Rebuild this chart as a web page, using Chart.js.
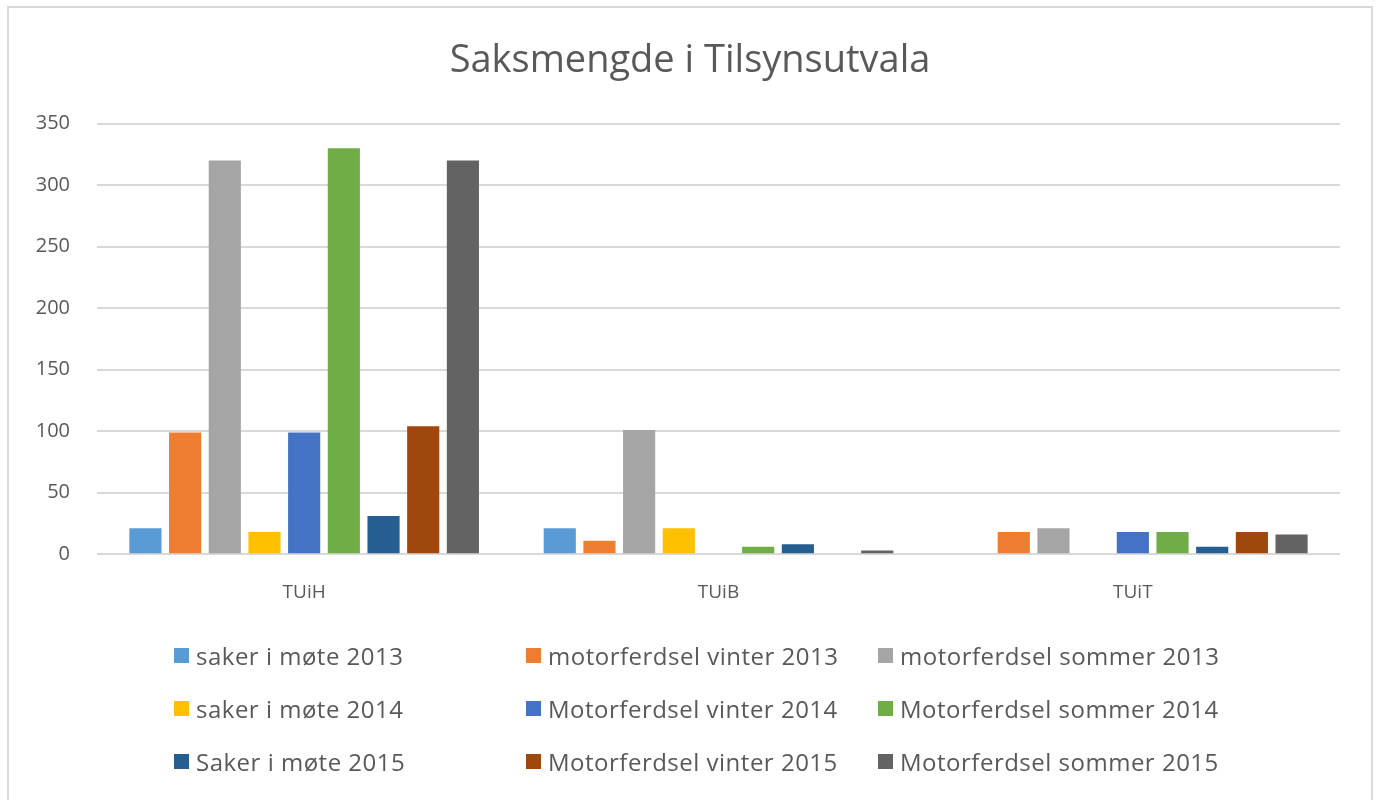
<!DOCTYPE html>
<html>
<head>
<meta charset="utf-8">
<script src="https://cdn.jsdelivr.net/npm/chart.js@4/dist/chart.umd.min.js"></script>
<style>
  html, body { margin: 0; padding: 0; background: #fff; }
  #wrap { position: relative; width: 1380px; height: 800px; overflow: hidden; }
  #frame { position: absolute; left: 7px; top: 6px; width: 1366px; height: 810px; border: 2px solid #d9d9d9; box-sizing: border-box; }
  #cv { position: absolute; left: 0; top: 0; }
  #legend { position: absolute; left: 174px; top: 629px; width: 1150px;
    display: grid; grid-template-columns: 352px 352px 420px; row-gap: 0; }
  .li { display: flex; align-items: center; height: 53px; font-family: 'Open Sans', sans-serif;
    font-size: 24px; letter-spacing: 0.5px; color: #595959; white-space: nowrap; }
  .sw { width: 15px; height: 15px; margin-right: 7px; flex: none; }
</style>
</head>
<body>
<div id="wrap">
  <div id="frame"></div>
  <canvas id="cv" width="1380" height="800"></canvas>
  <div id="legend"></div>
</div>
<script>
const categories = ['TUiH', 'TUiB', 'TUiT'];
const seriesNames = [
  'saker i møte 2013', 'motorferdsel vinter 2013', 'motorferdsel sommer 2013',
  'saker i møte 2014', 'Motorferdsel vinter 2014', 'Motorferdsel sommer 2014',
  'Saker i møte 2015', 'Motorferdsel vinter 2015', 'Motorferdsel sommer 2015'
];
const sakerMote2013 = [21, 21, 0];
const motorVinter2013 = [99, 11, 18];
const motorSommer2013 = [320, 101, 21];
const sakerMote2014 = [18, 21, 0];
const motorVinter2014 = [99, 0, 18];
const motorSommer2014 = [330, 6, 18];
const sakerMote2015 = [31, 8, 6];
const motorVinter2015 = [104, 0, 18];
const motorSommer2015 = [320, 3, 16];
const yTicks = [0, 50, 100, 150, 200, 250, 300, 350];

const seriesValues = [sakerMote2013, motorVinter2013, motorSommer2013, sakerMote2014,
  motorVinter2014, motorSommer2014, sakerMote2015, motorVinter2015, motorSommer2015];
const colors = ['#5B9BD5', '#ED7D31', '#A5A5A5', '#FFC000', '#4472C4', '#70AD47', '#255E91', '#9E480E', '#636363'];

const FONT = "'Open Sans', sans-serif";

const datasets = seriesNames.map((n, i) => ({
  label: n,
  data: seriesValues[i],
  backgroundColor: colors[i],
  borderWidth: 0,
  categoryPercentage: 0.862,
  barPercentage: 0.81,
  yAxisID: 'y'
}));

const chart = new Chart(document.getElementById('cv'), {
  type: 'bar',
  data: { labels: categories, datasets },
  options: {
    responsive: false,
    animation: false,
    layout: { padding: { left: 12, right: 12, top: 10, bottom: 177 } },
    plugins: {
      legend: { display: false },
      tooltip: { enabled: false },
      title: {
        display: true,
        text: 'Saksmengde i Tilsynsutvala',
        color: '#595959',
        font: { family: FONT, size: 38, weight: 'normal' },
        padding: { top: 28, bottom: 40 }
      }
    },
    scales: {
      x: {
        grid: { display: false },
        border: { display: false },
        ticks: { color: '#595959', font: { family: FONT, size: 19 }, padding: 19 }
      },
      y: {
        min: 0, max: 350,
        afterBuildTicks: (ax) => { ax.ticks = yTicks.map(v => ({ value: v })); },
        afterFit: (ax) => { ax.width = 85; },
        grid: { color: '#d9d9d9', lineWidth: 2, drawTicks: false },
        border: { display: false },
        ticks: { color: '#595959', font: { family: FONT, size: 20 }, padding: 27 }
      },
      ySpacer: {
        position: 'right',
        min: 0, max: 350,
        afterFit: (ax) => { ax.width = 28; },
        grid: { display: false },
        border: { display: false },
        ticks: { display: false }
      }
    }
  }
});

const lg = document.getElementById('legend');
chart.data.datasets.forEach(ds => {
  const d = document.createElement('div');
  d.className = 'li';
  const s = document.createElement('span');
  s.className = 'sw';
  s.style.background = ds.backgroundColor;
  const t = document.createElement('span');
  t.textContent = ds.label;
  d.appendChild(s); d.appendChild(t);
  lg.appendChild(d);
});
</script>
</body>
</html>
